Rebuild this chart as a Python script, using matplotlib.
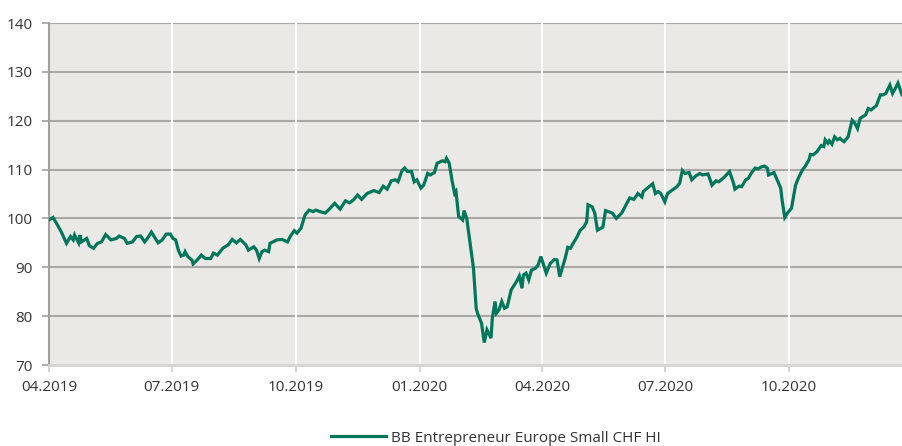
import numpy as np
import pandas as pd
import matplotlib
matplotlib.use("Agg")
import matplotlib.pyplot as plt
import matplotlib.dates as mdates
from matplotlib.lines import Line2D

plt.rcParams['font.family'] = ['Open Sans', 'DejaVu Sans']

# Serie (fecha, valor indexado)
fechas = [
    "2019-04-01", "2019-04-04", "2019-04-08", "2019-04-10", "2019-04-14", "2019-04-17",
    "2019-04-19", "2019-04-20", "2019-04-23", "2019-04-24", "2019-04-25", "2019-04-29",
    "2019-05-01", "2019-05-04", "2019-05-07", "2019-05-10", "2019-05-13", "2019-05-17",
    "2019-05-21", "2019-05-23", "2019-05-27", "2019-05-29", "2019-06-02", "2019-06-05",
    "2019-06-08", "2019-06-11", "2019-06-13", "2019-06-16", "2019-06-18", "2019-06-21",
    "2019-06-24", "2019-06-27", "2019-06-30", "2019-07-02", "2019-07-04", "2019-07-06",
    "2019-07-08", "2019-07-10", "2019-07-11", "2019-07-13", "2019-07-16", "2019-07-17",
    "2019-07-20", "2019-07-23", "2019-07-26", "2019-07-30", "2019-08-01", "2019-08-04",
    "2019-08-08", "2019-08-12", "2019-08-15", "2019-08-18", "2019-08-21", "2019-08-25",
    "2019-08-27", "2019-08-31", "2019-09-02", "2019-09-04", "2019-09-06", "2019-09-08",
    "2019-09-11", "2019-09-12", "2019-09-17", "2019-09-21", "2019-09-25", "2019-09-27",
    "2019-09-30", "2019-10-02", "2019-10-05", "2019-10-08", "2019-10-11", "2019-10-14",
    "2019-10-16", "2019-10-19", "2019-10-23", "2019-10-26", "2019-10-30", "2019-11-03",
    "2019-11-07", "2019-11-10", "2019-11-13", "2019-11-16", "2019-11-19", "2019-11-23",
    "2019-11-28", "2019-12-02", "2019-12-05", "2019-12-08", "2019-12-11", "2019-12-14",
    "2019-12-16", "2019-12-19", "2019-12-21", "2019-12-23", "2019-12-26", "2019-12-28",
    "2019-12-30", "2020-01-02", "2020-01-04", "2020-01-07", "2020-01-09", "2020-01-12",
    "2020-01-14", "2020-01-18", "2020-01-20", "2020-01-21", "2020-01-23", "2020-01-25",
    "2020-01-27", "2020-01-28", "2020-01-30", "2020-02-02", "2020-02-03", "2020-02-05",
    "2020-02-07", "2020-02-10", "2020-02-12", "2020-02-13", "2020-02-16", "2020-02-17",
    "2020-02-18", "2020-02-20", "2020-02-23", "2020-02-24", "2020-02-26", "2020-02-27",
    "2020-02-29", "2020-03-02", "2020-03-04", "2020-03-06", "2020-03-09", "2020-03-13",
    "2020-03-15", "2020-03-17", "2020-03-18", "2020-03-20", "2020-03-22", "2020-03-24",
    "2020-03-27", "2020-03-29", "2020-03-31", "2020-04-02", "2020-04-04", "2020-04-07",
    "2020-04-10", "2020-04-12", "2020-04-14", "2020-04-18", "2020-04-20", "2020-04-22",
    "2020-04-24", "2020-04-27", "2020-04-29", "2020-05-02", "2020-05-04", "2020-05-05",
    "2020-05-08", "2020-05-10", "2020-05-12", "2020-05-16", "2020-05-18", "2020-05-23",
    "2020-05-26", "2020-05-30", "2020-06-03", "2020-06-05", "2020-06-08", "2020-06-11",
    "2020-06-14", "2020-06-15", "2020-06-18", "2020-06-22", "2020-06-24", "2020-06-26",
    "2020-06-28", "2020-07-01", "2020-07-03", "2020-07-06", "2020-07-10", "2020-07-12",
    "2020-07-14", "2020-07-16", "2020-07-19", "2020-07-21", "2020-07-24", "2020-07-27",
    "2020-07-29", "2020-08-02", "2020-08-03", "2020-08-05", "2020-08-08", "2020-08-10",
    "2020-08-14", "2020-08-18", "2020-08-21", "2020-08-22", "2020-08-25", "2020-08-27",
    "2020-08-30", "2020-09-01", "2020-09-03", "2020-09-06", "2020-09-08", "2020-09-11",
    "2020-09-13", "2020-09-15", "2020-09-16", "2020-09-20", "2020-09-23", "2020-09-25",
    "2020-09-26", "2020-09-28", "2020-09-30", "2020-10-03", "2020-10-06", "2020-10-08",
    "2020-10-11", "2020-10-13", "2020-10-16", "2020-10-17", "2020-10-19", "2020-10-22",
    "2020-10-25", "2020-10-27", "2020-10-28", "2020-10-30", "2020-10-31", "2020-11-02",
    "2020-11-04", "2020-11-06", "2020-11-08", "2020-11-09", "2020-11-11", "2020-11-14",
    "2020-11-17", "2020-11-19", "2020-11-21", "2020-11-23", "2020-11-27", "2020-11-29",
    "2020-12-01", "2020-12-05", "2020-12-08", "2020-12-10", "2020-12-12", "2020-12-15",
    "2020-12-17", "2020-12-19", "2020-12-21", "2020-12-24",
]
valores = [
    99.7, 100.2, 98.3, 97.3, 94.9, 96.3,
    95.6, 96.6, 95.0, 96.6, 95.2, 95.9,
    94.4, 93.9, 94.9, 95.2, 96.7, 95.6,
    95.9, 96.4, 95.9, 94.9, 95.2, 96.3,
    96.4, 95.2, 95.9, 97.2, 96.3, 95.0,
    95.6, 96.8, 96.8, 95.9, 95.6, 93.5,
    92.3, 92.5, 93.2, 92.2, 91.5, 90.7,
    91.5, 92.5, 91.8, 91.8, 92.9, 92.5,
    93.9, 94.6, 95.7, 95.0, 95.7, 94.6,
    93.5, 94.2, 93.5, 91.8, 93.2, 93.5,
    93.2, 94.9, 95.6, 95.7, 95.2, 96.3,
    97.5, 97.0, 98.0, 100.7, 101.7, 101.4,
    101.7, 101.4, 101.1, 101.9, 103.1, 101.9,
    103.6, 103.2, 103.8, 104.8, 103.9, 105.1,
    105.7, 105.3, 106.6, 106.0, 107.7, 107.9,
    107.5, 109.8, 110.3, 109.6, 109.6, 107.5,
    107.9, 106.2, 106.8, 109.2, 108.9, 109.4,
    111.3, 111.8, 111.6, 112.3, 111.3, 107.9,
    105.1, 105.5, 100.4, 99.7, 101.6, 100.0,
    95.9, 89.8, 81.6, 80.6, 78.5, 76.5,
    74.6, 77.2, 75.5, 79.6, 83.0, 80.6,
    81.3, 83.0, 81.6, 81.9, 85.4, 87.1,
    88.2, 85.7, 88.4, 88.8, 87.4, 89.4,
    89.8, 90.5, 92.2, 90.5, 88.8, 90.8,
    91.6, 91.5, 88.1, 91.8, 94.1, 93.9,
    94.9, 96.3, 97.5, 98.3, 99.3, 102.8,
    102.4, 101.1, 97.6, 98.2, 101.6, 101.1,
    100.0, 101.1, 103.2, 104.2, 103.9, 105.1,
    104.4, 105.5, 106.2, 107.1, 105.1, 105.5,
    105.1, 103.4, 105.1, 105.7, 106.5, 107.2,
    109.8, 109.2, 109.4, 107.9, 108.7, 109.2,
    108.9, 109.1, 108.4, 106.8, 107.7, 107.5,
    108.4, 109.6, 107.2, 106.0, 106.6, 106.5,
    107.9, 108.2, 109.2, 110.3, 110.1, 110.6,
    110.7, 110.3, 108.9, 109.4, 107.5, 106.2,
    103.8, 100.2, 101.1, 102.1, 106.8, 108.2,
    109.9, 110.6, 112.0, 113.1, 113.0, 113.7,
    114.9, 114.7, 116.1, 115.4, 115.9, 115.2,
    116.7, 116.1, 116.4, 116.1, 115.7, 116.7,
    120.1, 119.5, 118.4, 120.5, 121.2, 122.5,
    122.2, 123.1, 125.3, 125.3, 125.6, 127.3,
    125.6, 126.6, 127.7, 125.3,
]

ticks_x = ["2019-04-01", "2019-07-01", "2019-10-01", "2020-01-01", "2020-04-01", "2020-07-01", "2020-10-01"]
ticks_y = [70, 80, 90, 100, 110, 120, 130, 140]
nombre_serie = "BB Entrepreneur Europe Small CHF HI"

verde = "#00775b"
fondo = "#ebe9e5"

fig = plt.figure(figsize=(9.02, 4.46), dpi=100)
ax = fig.add_axes([49/902, 1 - 365/446, 1 - 49/902, (365 - 23)/446])
ax.set_facecolor(fondo)

x = pd.to_datetime(fechas)
ax.plot(x, valores, color=verde, linewidth=2.3, solid_joinstyle="miter", zorder=3)

ax.set_xlim(pd.Timestamp("2019-04-01"), pd.Timestamp("2020-12-24"))
ax.set_ylim(70, 140)
ax.set_yticks(ticks_y)
ax.set_xticks(pd.to_datetime(ticks_x))
ax.xaxis.set_major_formatter(mdates.DateFormatter("%m.%Y"))

# Rejilla: horizontales grises, verticales blancas
for v in ticks_y[1:]:
    ax.axhline(v, color="#aaa8a4", linewidth=1.5, zorder=1)
for t in pd.to_datetime(ticks_x[1:]):
    ax.axvline(t, color="white", linewidth=1.5, zorder=1)

for s in ["top", "right"]:
    ax.spines[s].set_visible(False)
ax.spines["left"].set_color("#a3a19d")
ax.spines["left"].set_linewidth(1.5)
ax.spines["bottom"].set_color("#d6d4d0")
ax.spines["bottom"].set_linewidth(2)

ax.tick_params(axis="y", length=5, width=1.2, color="#a3a19d", labelsize=11, labelcolor="#333333", pad=7)
ax.tick_params(axis="x", length=5, width=1.5, color="#d6d4d0", labelsize=11, labelcolor="#333333", pad=6)

h = Line2D([], [], color=verde, linewidth=2.3)
fig.legend([h], [nombre_serie], loc="center", bbox_to_anchor=(0.55, 1 - 438/446), frameon=False,
           fontsize=11, handlelength=3.6, handletextpad=0.35, labelcolor="#333333")

fig.savefig("out.png", dpi=100, facecolor="white")
